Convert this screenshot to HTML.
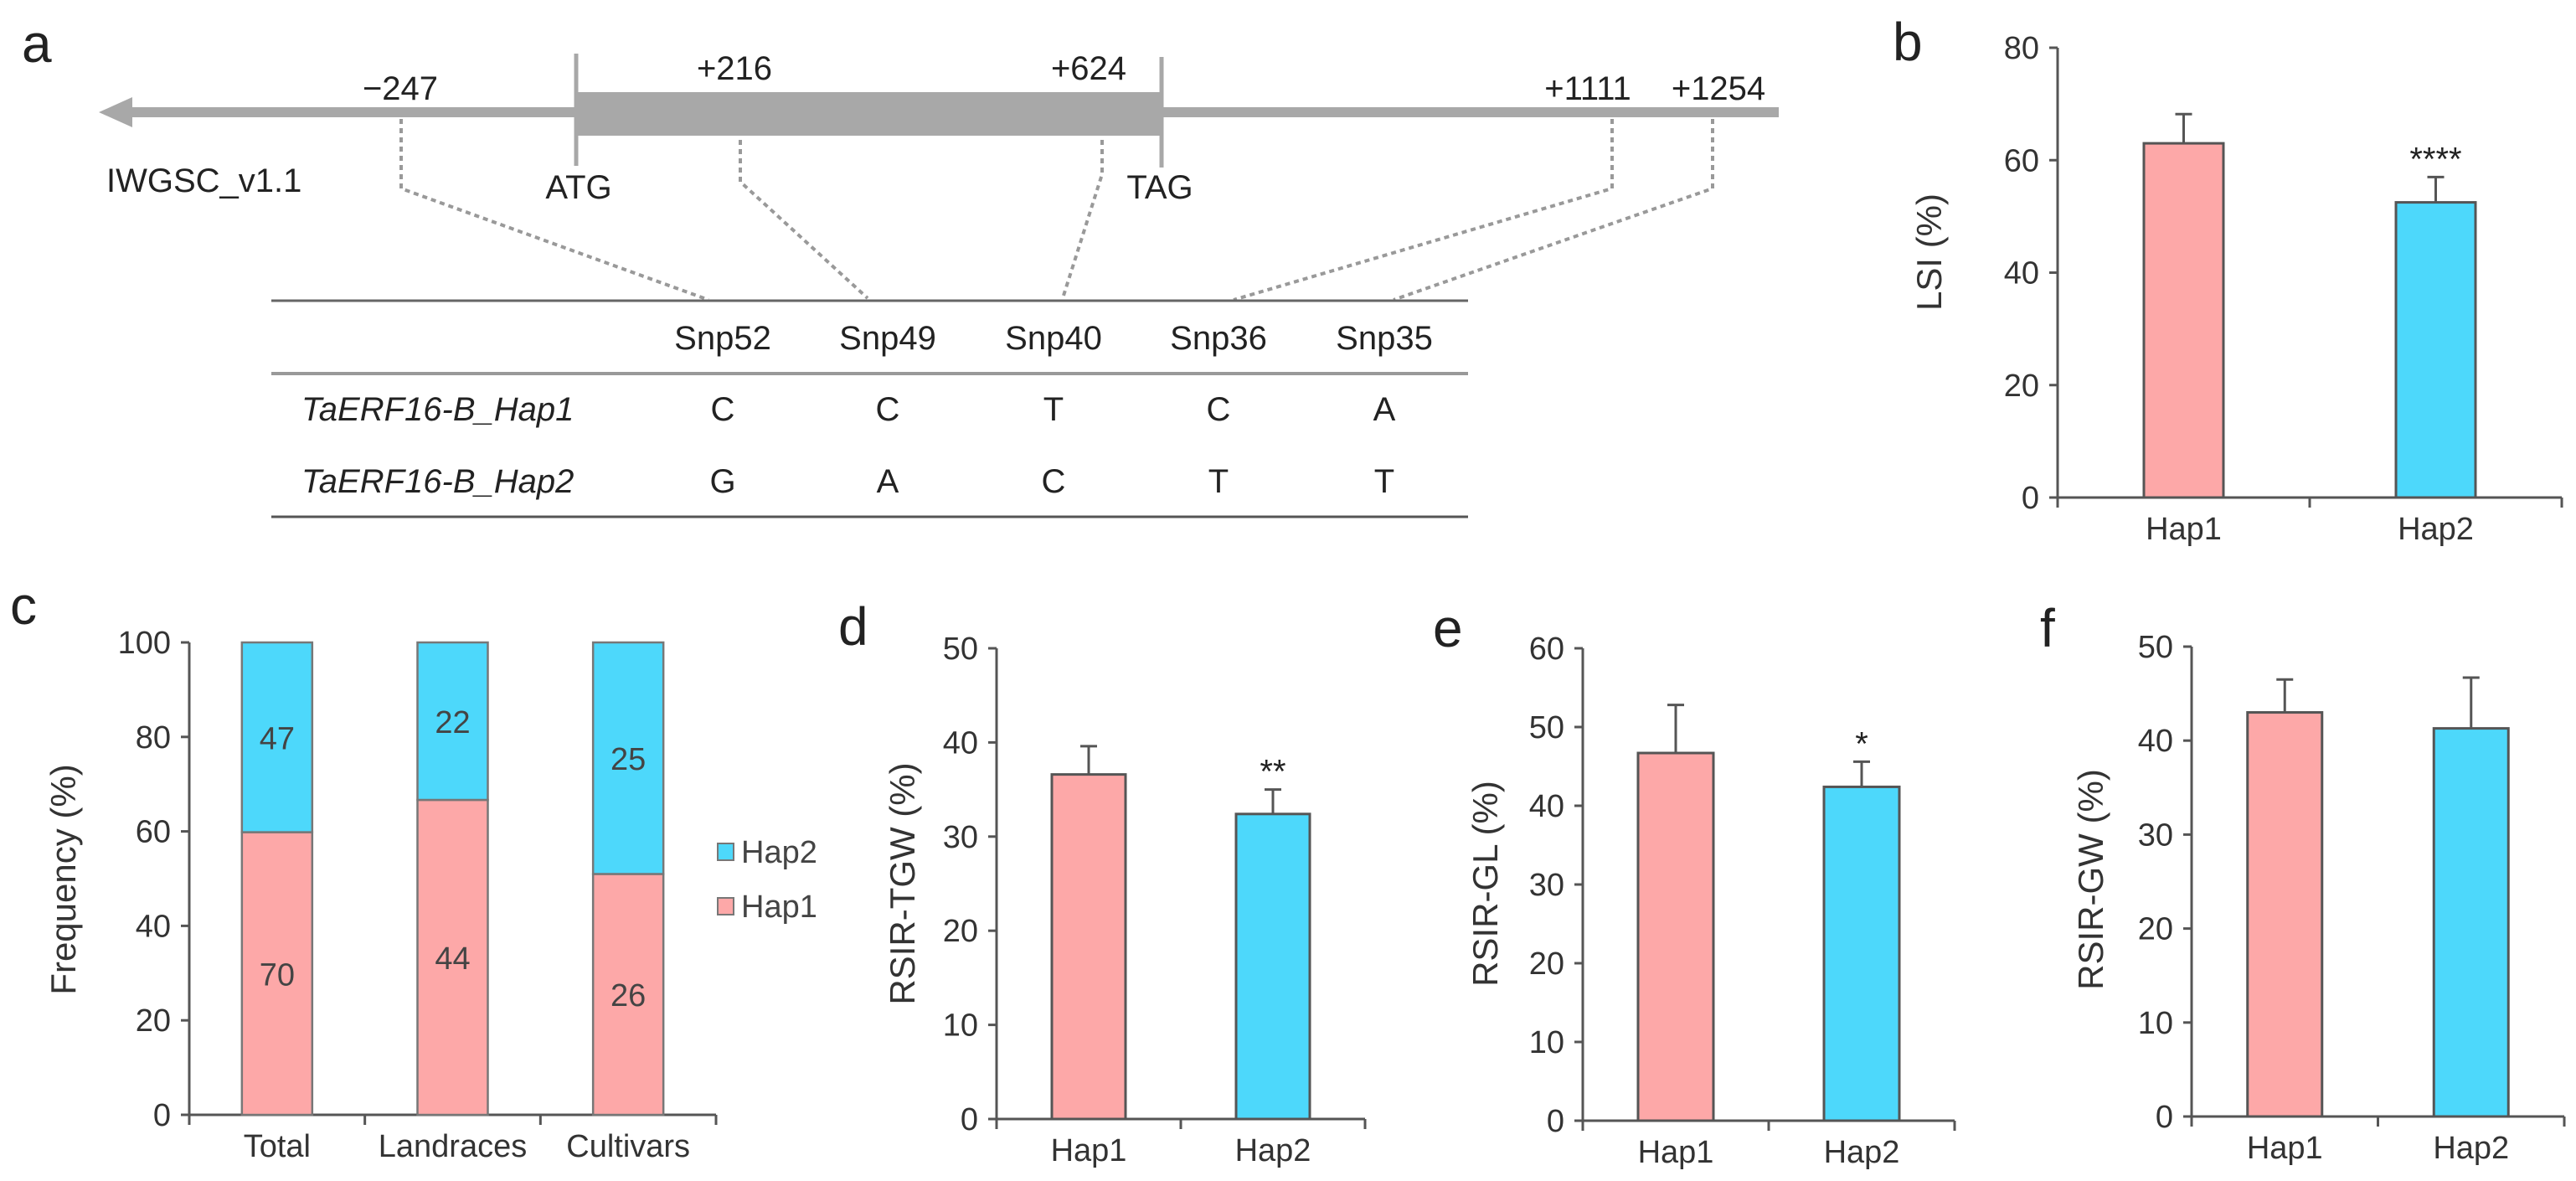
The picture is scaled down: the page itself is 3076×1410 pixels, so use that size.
<!DOCTYPE html>
<html><head><meta charset="utf-8"><style>
html,body{margin:0;padding:0;background:#fff}
svg{display:block;font-family:"Liberation Sans",Arial,sans-serif}
</style></head><body>
<svg id="fig" width="3076" height="1410" viewBox="0 0 3076 1410" xmlns="http://www.w3.org/2000/svg">
<g id="panel-a" fill="#222">
  <text x="26" y="74" font-size="64">a</text>
  <rect x="150" y="128" width="1974" height="12" fill="#a8a8a8"/>
  <polygon points="118,134 158,116 158,152" fill="#a8a8a8"/>
  <rect x="687" y="110" width="700" height="52" fill="#a8a8a8"/>
  <line x1="688" y1="64" x2="688" y2="198" stroke="#a8a8a8" stroke-width="5"/>
  <line x1="1387" y1="68" x2="1387" y2="200" stroke="#a8a8a8" stroke-width="5"/>
  <g font-size="40" text-anchor="middle" fill="#222">
    <text x="478" y="119">−247</text>
    <text x="877" y="95">+216</text>
    <text x="1300" y="95">+624</text>
    <text x="1896" y="119">+1111</text>
    <text x="2052" y="119">+1254</text>
    <text x="691" y="237">ATG</text>
    <text x="1385" y="237">TAG</text>
  </g>
  <text x="127" y="229" font-size="40">IWGSC_v1.1</text>
  <g fill="none" stroke="#999" stroke-width="4" stroke-dasharray="6,5">
    <polyline points="479,142 479,225 846,358"/>
    <polyline points="884,167 884,217 1036,356"/>
    <polyline points="1316,167 1316,208 1269,356"/>
    <polyline points="1925,142 1925,225 1473,358"/>
    <polyline points="2045,142 2045,225 1664,358"/>
  </g>
  <line x1="324" y1="359" x2="1753" y2="359" stroke="#666" stroke-width="3"/>
  <line x1="324" y1="446" x2="1753" y2="446" stroke="#999" stroke-width="4"/>
  <line x1="324" y1="617" x2="1753" y2="617" stroke="#555" stroke-width="3"/>
  <g font-size="40" text-anchor="middle" fill="#222">
    <text x="863" y="417">Snp52</text><text x="1060" y="417">Snp49</text><text x="1258" y="417">Snp40</text><text x="1455" y="417">Snp36</text><text x="1653" y="417">Snp35</text>
    <text x="863" y="502">C</text><text x="1060" y="502">C</text><text x="1258" y="502">T</text><text x="1455" y="502">C</text><text x="1653" y="502">A</text>
    <text x="863" y="588">G</text><text x="1060" y="588">A</text><text x="1258" y="588">C</text><text x="1455" y="588">T</text><text x="1653" y="588">T</text>
  </g>
  <text x="360" y="502" font-size="40" font-style="italic">TaERF16-B_Hap1</text>
  <text x="360" y="588" font-size="40" font-style="italic">TaERF16-B_Hap2</text>
</g>
<g id="charts"></g>
</svg>
<script>
// Panel b
const bCats = ["Hap1", "Hap2"];
const bValues = [63.0, 52.5];
const bErrors = [5.2, 4.5];
const bTicks = [0, 20, 40, 60, 80];
const bSig = ["", "****"];
// Panel c
const cCats = ["Total", "Landraces", "Cultivars"];
const cHap1Counts = [70, 44, 26];
const cHap2Counts = [47, 22, 25];
const cTicks = [0, 20, 40, 60, 80, 100];
// Panel d
const dCats = ["Hap1", "Hap2"];
const dValues = [36.6, 32.4];
const dErrors = [3.0, 2.6];
const dTicks = [0, 10, 20, 30, 40, 50];
const dSig = ["", "**"];
// Panel e
const eCats = ["Hap1", "Hap2"];
const eValues = [46.7, 42.4];
const eErrors = [6.1, 3.2];
const eTicks = [0, 10, 20, 30, 40, 50, 60];
const eSig = ["", "*"];
// Panel f
const fCats = ["Hap1", "Hap2"];
const fValues = [43.0, 41.3];
const fErrors = [3.5, 5.4];
const fTicks = [0, 10, 20, 30, 40, 50];
const fSig = ["", ""];

const NS = "http://www.w3.org/2000/svg";
const root = document.getElementById("charts");
const PINK = "#fda8a8", CYAN = "#4dd8fb";
function mk(tag, attrs, parent, text) {
  const e = document.createElementNS(NS, tag);
  for (const k in attrs) e.setAttribute(k, attrs[k]);
  if (text !== undefined) e.textContent = text;
  (parent || root).appendChild(e);
  return e;
}
function axes(g, cfg, ticks, cats) {
  const y = v => cfg.y0 - (v - ticks[0]) / (ticks[ticks.length - 1] - ticks[0]) * (cfg.y0 - cfg.yTop);
  const n = cats.length, bw = (cfg.x1 - cfg.x0) / n;
  const ax = mk("line", {x1: cfg.x0, y1: cfg.yTop, x2: cfg.x0, y2: cfg.y0, stroke: "#555", "stroke-width": 3}, g);
  
  
  const xx = mk("line", {x1: cfg.x0, y1: cfg.y0, x2: cfg.x1, y2: cfg.y0, stroke: "#555", "stroke-width": 3}, g);
  
  
  ticks.forEach(t => {
    const tl = mk("line", {x1: cfg.x0 - 10, y1: y(t), x2: cfg.x0, y2: y(t), stroke: "#555", "stroke-width": 3}, g);
    
    
    const tx = mk("text", {x: cfg.x0 - 22, y: y(t) + 13, "font-size": 38, "text-anchor": "end", fill: "#333"}, g, String(t));
    
    
  });
  for (let i = 0; i <= n; i++) {
    const xt = cfg.x0 + i * bw;
    const tk = mk("line", {x1: xt, y1: cfg.y0, x2: xt, y2: cfg.y0 + 12, stroke: "#555", "stroke-width": 3}, g);
    
    
  }
  cats.forEach((c, i) => {
    const lb = mk("text", {x: cfg.x0 + (i + 0.5) * bw, y: cfg.y0 + 50, "font-size": 38, "text-anchor": "middle", fill: "#333"}, g, c);
    
    
  });
  const yl = mk("text", {x: cfg.lx, y: cfg.ly, "font-size": 42, "text-anchor": "middle", fill: "#333",
    transform: `rotate(-90 ${cfg.lx} ${cfg.ly})`}, g, cfg.ylabel);
  
  
  const pl = mk("text", {x: cfg.px, y: cfg.py, "font-size": 64, fill: "#222"}, g, cfg.panel);
  
  
  return {y, bw};
}
function barChart(name, cfg, cats, vals, errs, ticks, sig) {
  const g = mk("g", {});
  
  
  const {y, bw} = axes(g, cfg, ticks, cats);
  const colors = [PINK, CYAN];
  cats.forEach((c, i) => {
    const cx = cfg.x0 + (i + 0.5) * bw;
    const top = y(vals[i]), et = y(vals[i] + errs[i]);
    const el = mk("line", {x1: cx, y1: et, x2: cx, y2: top, stroke: "#555", "stroke-width": 3}, g);
    
    
    const cap = mk("line", {x1: cx - 10, y1: et, x2: cx + 10, y2: et, stroke: "#555", "stroke-width": 3}, g);
    
    
    const r = mk("rect", {x: cx - cfg.barW / 2, y: top, width: cfg.barW, height: cfg.y0 - top, fill: colors[i], stroke: "#555", "stroke-width": 3}, g);
    
    
    if (sig[i]) {
      const s = mk("text", {x: cx, y: et - 8, "font-size": 40, "text-anchor": "middle", fill: "#222"}, g, sig[i]);
      
      
    }
  });
}
barChart("lsi-chart", {x0: 2457, x1: 3059, y0: 594, yTop: 57, barW: 95, lx: 2318, ly: 301, ylabel: "LSI (%)", panel: "b", px: 2260, py: 72}, bCats, bValues, bErrors, bTicks, bSig);
barChart("rsir-tgw-chart", {x0: 1190, x1: 1630, y0: 1336, yTop: 774, barW: 88, lx: 1092, ly: 1055, ylabel: "RSIR-TGW (%)", panel: "d", px: 1001, py: 770}, dCats, dValues, dErrors, dTicks, dSig);
barChart("rsir-gl-chart", {x0: 1890, x1: 2334, y0: 1338, yTop: 774, barW: 90, lx: 1788, ly: 1055, ylabel: "RSIR-GL (%)", panel: "e", px: 1711, py: 772}, eCats, eValues, eErrors, eTicks, eSig);
barChart("rsir-gw-chart", {x0: 2617, x1: 3062, y0: 1333, yTop: 772, barW: 89, lx: 2511, ly: 1050, ylabel: "RSIR-GW (%)", panel: "f", px: 2436, py: 772}, fCats, fValues, fErrors, fTicks, fSig);

// Panel c stacked chart
(function () {
  const cfg = {x0: 226, x1: 855, y0: 1331, yTop: 767, barW: 84, lx: 90, ly: 1050, ylabel: "Frequency (%)", panel: "c", px: 12, py: 745};
  const g = mk("g", {});
  
  
  const {y, bw} = axes(g, cfg, cTicks, cCats);
  cCats.forEach((c, i) => {
    const tot = cHap1Counts[i] + cHap2Counts[i];
    const p1 = cHap1Counts[i] / tot * 100;
    const cx = cfg.x0 + (i + 0.5) * bw, x = cx - cfg.barW / 2;
    const r1 = mk("rect", {x, y: y(p1), width: cfg.barW, height: cfg.y0 - y(p1), fill: PINK, stroke: "#777", "stroke-width": 2.5}, g);
    
    
    const r2 = mk("rect", {x, y: y(100), width: cfg.barW, height: y(p1) - y(100), fill: CYAN, stroke: "#777", "stroke-width": 2.5}, g);
    
    
    const t1 = mk("text", {x: cx, y: (y(p1) + cfg.y0) / 2 + 14, "font-size": 38, "text-anchor": "middle", fill: "#444"}, g, String(cHap1Counts[i]));
    
    
    const t2 = mk("text", {x: cx, y: (y(p1) + y(100)) / 2 + 14, "font-size": 38, "text-anchor": "middle", fill: "#444"}, g, String(cHap2Counts[i]));
    
    
  });
  const legend = [["Hap2", CYAN, 1007], ["Hap1", PINK, 1072]];
  legend.forEach(([lab, col, ly]) => {
    const sw = mk("rect", {x: 857, y: ly, width: 19, height: 20, fill: col, stroke: "#777", "stroke-width": 2}, g);
    
    
    const lt = mk("text", {x: 885, y: ly + 23, "font-size": 38, fill: "#444"}, g, lab);
    
    
  });
})();
</script>
</body></html>
